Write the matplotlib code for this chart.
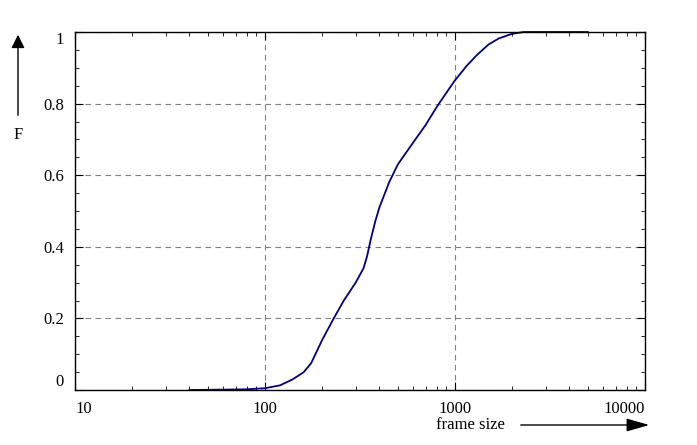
import matplotlib
matplotlib.use("Agg")
import matplotlib.pyplot as plt
import numpy as np

plt.rcParams['font.family'] = ['Liberation Serif', 'DejaVu Serif']

frame_size = [40, 60, 80, 100, 120, 140, 160, 175, 200, 230, 260, 300, 330, 345, 360, 380, 400, 450, 500, 600, 700, 800, 900, 1000, 1150, 1300, 1500, 1700, 2000, 2300, 3000, 5000]
cdf = [0.0, 0.001, 0.002, 0.005, 0.013, 0.03, 0.05, 0.075, 0.14, 0.20, 0.25, 0.30, 0.34, 0.375, 0.42, 0.47, 0.51, 0.58, 0.63, 0.69, 0.74, 0.79, 0.83, 0.865, 0.905, 0.935, 0.965, 0.982, 0.995, 1.0, 1.0, 1.0]
xticks = [10, 100, 1000, 10000]
xticklabels = ['10', '100', '1000', '10000']
yticks = [0, 0.2, 0.4, 0.6, 0.8, 1.0]
yticklabels = ['0', '0.2', '0.4', '0.6', '0.8', '1']

fig = plt.figure(figsize=(6.97, 4.45), dpi=100)
ax = fig.add_axes([75/697, 1-390/445, 570/697, 358/445])
ax.plot(frame_size, cdf, color='#00007f', lw=1.3, clip_on=False)
ax.set_xscale('log')
ax.set_xlim(10, 10000)
ax.set_ylim(0, 1)
ax.set_xticks(xticks)
ax.set_xticklabels(xticklabels, fontsize=12)
labs = ax.get_xticklabels()
labs[0].set_ha('left')
labs[-1].set_ha('right')
ax.set_yticks(yticks)
ax.set_yticklabels(yticklabels, fontsize=12)
ylabs = ax.get_yticklabels()
ylabs[0].set_va('bottom')
ylabs[-1].set_va('top')
ax.grid(True, which='major', ls=(0, (5, 4)), color='gray', lw=0.8)
ax.minorticks_on()
ax.yaxis.set_minor_locator(matplotlib.ticker.MultipleLocator(0.05))
ax.tick_params(which='both', direction='in', top=True, right=True)
ax.tick_params(which='major', length=6, pad=8)
ax.tick_params(which='minor', length=3)
for s in ax.spines.values():
    s.set_linewidth(1.0)

fig.text(18/697, 1-135/445, 'F', fontsize=12, ha='center', va='center')
fig.add_artist(matplotlib.patches.FancyArrowPatch((18/697, 1-118/445), (18/697, 1-32/445),
    transform=fig.transFigure, arrowstyle='-|>,head_length=8,head_width=4', color='black', lw=1))
fig.text(470/697, 1-425/445, 'frame size', fontsize=12, ha='center', va='center')
fig.add_artist(matplotlib.patches.FancyArrowPatch((518/697, 1-425/445), (652/697, 1-425/445),
    transform=fig.transFigure, arrowstyle='-|>,head_length=14,head_width=4', color='black', lw=1))
fig.savefig('out.png', dpi=100)
